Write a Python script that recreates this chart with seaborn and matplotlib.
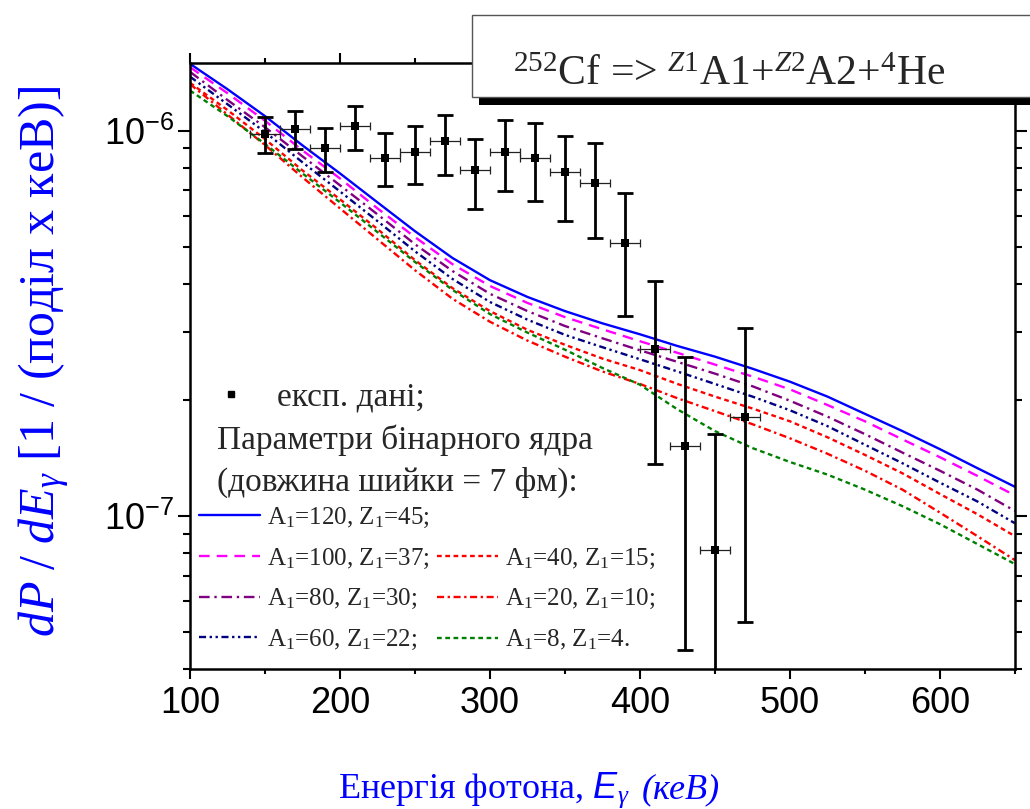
import matplotlib
matplotlib.use("Agg")
import numpy as np
import pandas as pd
import matplotlib.pyplot as plt
from matplotlib.lines import Line2D
from matplotlib.patches import Rectangle
from matplotlib.ticker import MultipleLocator, LogLocator, NullFormatter, FuncFormatter
import seaborn as sns

# photon energy grid of the model curves (keV)
energy = [100, 125, 150, 175, 200, 225, 250, 275, 300, 325, 350, 375,
          400, 425, 450, 475, 500, 525, 550, 575, 600, 625, 650]

# dP/dE for the binary-nucleus parameter sets
curve_a120 = [1.49e-6, 1.28e-6, 1.09e-6, 9.15e-7, 7.74e-7, 6.51e-7, 5.48e-7, 4.67e-7, 4.09e-7, 3.70e-7, 3.40e-7, 3.16e-7,
              2.96e-7, 2.76e-7, 2.59e-7, 2.41e-7, 2.23e-7, 2.04e-7, 1.84e-7, 1.66e-7, 1.49e-7, 1.33e-7, 1.19e-7]
curve_a100 = [1.46e-6, 1.25e-6, 1.06e-6, 8.88e-7, 7.51e-7, 6.28e-7, 5.29e-7, 4.50e-7, 3.95e-7, 3.57e-7, 3.28e-7, 3.05e-7,
              2.84e-7, 2.65e-7, 2.47e-7, 2.30e-7, 2.13e-7, 1.94e-7, 1.76e-7, 1.58e-7, 1.42e-7, 1.27e-7, 1.13e-7]
curve_a80 = [1.42e-6, 1.20e-6, 1.02e-6, 8.57e-7, 7.21e-7, 6.06e-7, 5.07e-7, 4.32e-7, 3.77e-7, 3.40e-7, 3.11e-7, 2.89e-7,
             2.69e-7, 2.51e-7, 2.34e-7, 2.17e-7, 1.99e-7, 1.81e-7, 1.63e-7, 1.46e-7, 1.31e-7, 1.17e-7, 1.03e-7]
curve_a60 = [1.38e-6, 1.17e-6, 9.91e-7, 8.27e-7, 6.95e-7, 5.82e-7, 4.86e-7, 4.12e-7, 3.59e-7, 3.23e-7, 2.95e-7, 2.74e-7,
             2.55e-7, 2.37e-7, 2.20e-7, 2.04e-7, 1.88e-7, 1.71e-7, 1.53e-7, 1.37e-7, 1.22e-7, 1.09e-7, 9.57e-8]
curve_a40 = [1.33e-6, 1.13e-6, 9.50e-7, 7.88e-7, 6.63e-7, 5.55e-7, 4.61e-7, 3.90e-7, 3.40e-7, 3.04e-7, 2.78e-7, 2.56e-7,
             2.39e-7, 2.20e-7, 2.04e-7, 1.90e-7, 1.76e-7, 1.60e-7, 1.44e-7, 1.29e-7, 1.14e-7, 1.01e-7, 8.86e-8]
curve_a20 = [1.32e-6, 1.10e-6, 9.17e-7, 7.56e-7, 6.28e-7, 5.22e-7, 4.34e-7, 3.66e-7, 3.19e-7, 2.85e-7, 2.59e-7, 2.37e-7,
             2.20e-7, 2.02e-7, 1.87e-7, 1.73e-7, 1.59e-7, 1.45e-7, 1.31e-7, 1.17e-7, 1.02e-7, 8.86e-8, 7.68e-8]
curve_a8 = [1.27e-6, 1.09e-6, 9.23e-7, 7.74e-7, 6.51e-7, 5.45e-7, 4.56e-7, 3.86e-7, 3.34e-7, 2.99e-7, 2.70e-7, 2.42e-7,
            2.19e-7, 1.89e-7, 1.66e-7, 1.50e-7, 1.38e-7, 1.28e-7, 1.17e-7, 1.06e-7, 9.52e-8, 8.45e-8, 7.50e-8]

# experimental points
exp_e = [150, 170, 190, 210, 230, 250, 270, 290, 310, 330, 350, 370, 390, 410, 430, 450, 470]
exp_p = [0.98e-6, 1.01e-6, 0.90e-6, 1.03e-6, 0.85e-6, 0.88e-6, 0.94e-6, 0.79e-6, 0.88e-6,
         0.85e-6, 0.78e-6, 0.73e-6, 0.51e-6, 2.71e-7, 1.52e-7, 8.15e-8, 1.81e-7]
exp_hi = [1.087e-6, 1.127e-6, 1.016e-6, 1.16e-6, 0.986e-6, 1.026e-6, 1.10e-6, 0.948e-6, 1.066e-6,
          1.047e-6, 0.969e-6, 0.927e-6, 0.687e-6, 4.06e-7, 2.58e-7, 1.63e-7, 3.07e-7]
exp_lo = [0.873e-6, 0.897e-6, 0.78e-6, 0.888e-6, 0.717e-6, 0.728e-6, 0.766e-6, 0.624e-6, 0.695e-6,
          0.658e-6, 0.584e-6, 0.527e-6, 0.33e-6, 1.36e-7, 4.48e-8, 3.0e-8, 5.32e-8]
exp_de = 10

labels = [r"A$_1$=120, Z$_1$=45;", r"A$_1$=100, Z$_1$=37;", r"A$_1$=80, Z$_1$=30;",
          r"A$_1$=60, Z$_1$=22;", r"A$_1$=40, Z$_1$=15;", r"A$_1$=20, Z$_1$=10;",
          r"A$_1$=8, Z$_1$=4."]
curves = [curve_a120, curve_a100, curve_a80, curve_a60, curve_a40, curve_a20, curve_a8]
colors = ["#0000FF", "#FF00FF", "#800080", "#000080", "#FF0000", "#FF0000", "#008000"]
dash_styles = ["", (4.5, 3), (4.5, 2, 1, 2), (3, 1.5, 1, 1.5, 1, 1.5), (2, 1.5), (3, 1.5, 1, 1.5), (2, 1.5)]
line_w = 1.7

df = pd.DataFrame({
    "E": energy * len(curves),
    "P": [v for c in curves for v in c],
    "model": [lab for lab in labels for _ in energy],
})

sns.set_theme(style="ticks")
plt.rcParams["font.family"] = ["Liberation Sans", "DejaVu Sans"]
plt.rcParams["mathtext.fontset"] = "custom"
plt.rcParams["mathtext.rm"] = "Liberation Serif"
plt.rcParams["mathtext.it"] = "Liberation Serif:italic"
plt.rcParams["mathtext.bf"] = "Liberation Serif:bold"
plt.rcParams["mathtext.sf"] = "Liberation Sans"
plt.rcParams["mathtext.cal"] = "Liberation Sans:italic"

fig, ax = plt.subplots(figsize=(10.3, 8.09), dpi=100)
fig.subplots_adjust(left=0.1845, right=0.9854, bottom=0.1727, top=0.9225)

sns.lineplot(data=df, x="E", y="P", hue="model", style="model",
             hue_order=labels, style_order=labels,
             palette=dict(zip(labels, colors)), dashes=dict(zip(labels, dash_styles)),
             estimator=None, lw=line_w, legend=False, ax=ax)

# experimental data with error bars
ax.errorbar(exp_e, exp_p, xerr=exp_de, fmt="none", ecolor="#222222",
            elinewidth=0.9, capsize=3, capthick=0.9, zorder=3)
yerr = [np.array(exp_p) - np.array(exp_lo), np.array(exp_hi) - np.array(exp_p)]
ax.errorbar(exp_e, exp_p, yerr=yerr, fmt="none", ecolor="black",
            elinewidth=2, capsize=6, capthick=2, zorder=4)
sns.scatterplot(x=exp_e, y=exp_p, marker="s", color="black", s=28,
                linewidth=0, zorder=5, ax=ax)

ax.set_yscale("log")
ax.set_xlim(100, 650)
ax.set_ylim(4e-8, 1.5e-6)
ax.xaxis.set_major_locator(MultipleLocator(100))
ax.xaxis.set_minor_locator(MultipleLocator(50))
ax.yaxis.set_major_locator(LogLocator(base=10))
ax.yaxis.set_minor_locator(LogLocator(base=10, subs=np.arange(2, 10)))
ax.yaxis.set_minor_formatter(NullFormatter())
ax.yaxis.set_major_formatter(FuncFormatter(lambda v, pos: r"$\mathsf{10^{%d}}$" % round(np.log10(v))))

for side in ax.spines.values():
    side.set_linewidth(1.8)
    side.set_color("black")
ax.tick_params(which="both", direction="out", width=1.5, colors="black",
               top=True, right=True, labelsize=26)
ax.tick_params(axis="x", which="major", length=7, pad=5)
ax.tick_params(axis="x", which="minor", length=3.6)
ax.tick_params(axis="y", which="major", length=8.5, pad=3)
ax.tick_params(axis="y", which="minor", length=5)

# axis titles
ax.set_xlabel(r"Енергія фотона, $\mathcal{E}_{\gamma}$", family="Liberation Serif",
              fontsize=26, color="#0000FF", ha="left", va="baseline")
ax.xaxis.set_label_coords(0.1794, -0.212)
ax.text(0.548, -0.212, "(кеВ)", transform=ax.transAxes, family="Liberation Serif",
        fontstyle="italic", fontsize=26, color="#0000FF", ha="left", va="baseline")
ax.set_ylabel(r"$\mathit{dP\ /\ dE}_{\gamma}$ [1 / (поділ х кеВ)]",
              family="Liberation Serif", fontsize=36, color="#0000FF", va="center")
ax.yaxis.set_label_coords(-0.176, 0.507)

# legend: experiment marker, header lines, then two columns of curves
exp_handle = Line2D([], [], ls="none", marker="s", color="black", ms=5)
leg_exp = ax.legend([exp_handle], ["експ. дані;"], loc="center left",
                    bbox_to_anchor=(0.029, 0.449), frameon=False, borderpad=0,
                    borderaxespad=0, handlelength=1, handletextpad=0.9,
                    prop={"family": "Liberation Serif", "size": 24})
ax.add_artist(leg_exp)
ax.text(0.0327, 0.378, "Параметри бінарного ядра", transform=ax.transAxes,
        family="Liberation Serif", fontsize=24, va="center")
ax.text(0.0327, 0.3088, "(довжина шийки = 7 фм):", transform=ax.transAxes,
        family="Liberation Serif", fontsize=24, va="center")

handles = []
for c, d in zip(colors, dash_styles):
    h = Line2D([], [], color=c, lw=line_w)
    if d:
        h.set_dashes(d)
    handles.append(h)
leg_kw = dict(loc="center left", frameon=False, borderpad=0, borderaxespad=0,
              handlelength=2.44, handletextpad=0.28, labelspacing=0.67,
              prop={"family": "Liberation Serif", "size": 18})
leg_left = ax.legend(handles[:4], labels[:4], bbox_to_anchor=(0.011, 0.1489), **leg_kw)
ax.add_artist(leg_left)
ax.legend(handles[4:], labels[4:], bbox_to_anchor=(0.2994, 0.1151), **leg_kw)

# title box with shadow at the top right
fig.patches.append(Rectangle((0.465, 0.8702), 0.6, 0.1014, transform=fig.transFigure,
                             fc="black", ec="none", zorder=5))
fig.patches.append(Rectangle((0.4583, 0.8801), 0.6, 0.1014, transform=fig.transFigure,
                             fc="white", ec="#555555", lw=1, zorder=6))
fig.text(0.498, 0.8949, r"$^{252}$Cf => $^{Z1}$A1+$^{Z2}$A2+$^{4}$He",
         family="Liberation Serif", fontsize=30, ha="left", va="baseline", zorder=7)

fig.savefig("out.png", dpi=100)
